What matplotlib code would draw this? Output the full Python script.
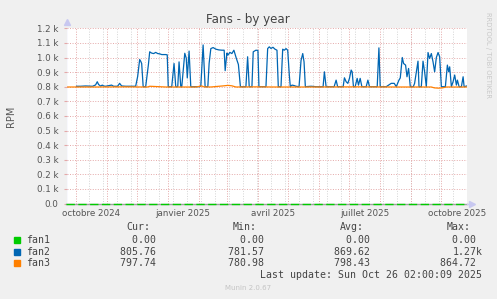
import datetime as dt
import numpy as np
import matplotlib
matplotlib.use("Agg")
import matplotlib.pyplot as plt
import matplotlib.dates as mdates

W, H = 497, 299

# data: days counted from 1 Oct 2024
base = dt.datetime(2024, 10, 1)
t_start = dt.datetime(2024, 9, 22)
t_end = dt.datetime(2025, 10, 26, 2, 0)

fan1_days = [-9, 391]
fan1_rpm = [0, 0]

fan2_days = [1, 5, 10, 17, 20, 21.7, 23, 25, 26.7, 28, 30, 36, 38, 42, 44, 46, 50, 55, 60,
             62, 64, 65, 66, 67.5, 70, 72.7, 74, 76, 78, 80, 82, 84, 86, 90, 91.5, 92.5,
             96, 98.3, 100, 102, 103.3, 105, 106, 109, 110.5, 111.5, 113.3, 115, 124, 125,
             127.3, 129.3, 132, 133.3, 135, 137.3, 140, 143, 146, 148.3, 149.3, 151, 152,
             154, 156, 158, 160.5, 162.5, 164.5, 170, 171.7, 173.3, 176, 177.3, 180, 182,
             183, 190, 191.7, 193.3, 195, 197, 199, 201, 202.3, 205, 206.7, 208.3, 210,
             211.7, 213.3, 214.3, 216, 218, 220, 223, 225, 226.7, 228, 229.3, 235, 240,
             247, 248.3, 250, 258, 260, 261.5, 267, 268.3, 270, 271.7, 273.3, 275, 276,
             277.3, 279, 281, 282.3, 284, 285.7, 290, 291.7, 293.3, 301, 302.7, 304, 310,
             315, 318, 320, 322.7, 324, 326, 327.3, 329.3, 330.7, 332.3, 334, 337, 338.3,
             341.7, 342.7, 345, 346.7, 348.3, 350, 351.7, 353.3, 355, 356.7, 358.3, 360,
             361.7, 363.3, 365, 369, 371, 372.3, 373.3, 375, 376.7, 378.3, 380, 381, 382.7,
             385, 386.7, 387.7, 391]
fan2_rpm = [803, 803, 805, 803, 812, 834, 815, 804, 811, 805, 803, 811, 803, 803, 823, 805, 803, 803, 803,
            870, 986, 975, 959, 800, 800, 950, 1039, 1030, 1027, 1035, 1027, 1025, 1020, 1020, 1018, 800,
            800, 959, 800, 800, 970, 800, 800, 1029, 995, 860, 1044, 800, 800, 805,
            1086, 800, 800, 960, 1061, 1068, 1057, 1052, 1050, 1050, 910, 1030, 1016,
            1035, 1027, 1050, 993, 952, 800, 800, 1005, 800, 800, 1039, 1050, 1048,
            800, 800, 1061, 1073, 1062, 1070, 1057, 1050, 800, 800, 1057, 1050, 1061,
            1050, 880, 800, 811, 808, 803, 800, 980, 1027, 970, 800, 803, 800,
            800, 902, 800, 800, 845, 800, 800, 861, 834, 823, 857, 914, 902,
            800, 800, 857, 811, 857, 800, 800, 845, 800, 800, 1066, 800, 800,
            823, 823, 800, 845, 860, 1000, 959, 948, 868, 925, 800, 800, 823,
            975, 800, 800, 975, 902, 800, 1034, 993, 1027, 970, 902, 1000,
            1034, 1005, 800, 800, 948, 902, 936, 800, 834, 880, 811, 845, 800,
            800, 868, 800, 806]

fan3_days = [-9, 20, 50, 72, 74, 90, 120, 126, 128, 135, 148, 152, 156, 160, 180, 200,
             240, 280, 320, 355, 358, 362, 366, 370, 391]
fan3_rpm = [798, 798, 799, 798, 803, 798, 798, 805, 799, 798, 806, 809, 806, 798, 799, 798,
            798, 799, 798, 798, 792, 790, 792, 798, 798]

series = [("fan1", "#00CC00"), ("fan2", "#0066B3"), ("fan3", "#FF8000")]
cur = ["0.00 ", "805.76 ", "797.74 "]
vmin = ["0.00 ", "781.57 ", "780.98 "]
vavg = ["0.00 ", "869.62 ", "798.43 "]
vmax = ["0.00 ", "1.27k", "864.72 "]

month_labels = ["octobre 2024", "janvier 2025", "avril 2025", "juillet 2025", "octobre 2025"]
label_dates = [dt.datetime(2024, 10, 16, 8), dt.datetime(2025, 1, 16, 8), dt.datetime(2025, 4, 16, 8),
               dt.datetime(2025, 7, 16, 8), dt.datetime(2025, 10, 16, 8)]
y_ticks = [0, 100, 200, 300, 400, 500, 600, 700, 800, 900, 1000, 1100, 1200]
y_labels = ["0.0", "0.1 k", "0.2 k", "0.3 k", "0.4 k", "0.5 k", "0.6 k", "0.7 k",
            "0.8 k", "0.9 k", "1.0 k", "1.1 k", "1.2 k"]


def to_dates(days):
    return [base + dt.timedelta(days=d) for d in days]


def fx(x):
    return x / W


def fy(y):
    return 1 - y / H


fig = plt.figure(figsize=(W / 100, H / 100), dpi=100, facecolor="#F0F0F0")
ax = fig.add_axes([fx(66.5), fy(203.5), 400 / W, 175.2 / H], facecolor="white")
ax.set_xlim(t_start, t_end)
ax.set_ylim(0, 1200)

grid_red = "#E4A8A8"
grid_gray = "#D4D4D4"
dots = (0, (1, 1.6))

# minor grid, every two weeks
d = dt.datetime(2024, 10, 14)
while d < t_end:
    ax.axvline(d, color=grid_gray, lw=0.7, ls=dots, zorder=1)
    d += dt.timedelta(days=14)
# major grid, month starts
for y, m in [(2024, 10), (2024, 11), (2024, 12)] + [(2025, k) for k in range(1, 11)]:
    ax.axvline(dt.datetime(y, m, 1), color=grid_red, lw=0.7, ls=dots, zorder=1)
for v in y_ticks[1:]:
    ax.axhline(v, color=grid_red, lw=0.7, ls=dots, zorder=1)

ax.plot(to_dates(fan1_days), fan1_rpm, color="#A0A0A0", lw=1.0, zorder=2, clip_on=False)
ax.plot(to_dates(fan1_days), fan1_rpm, color=series[0][1], lw=1.0, zorder=3,
        dashes=(6, 2.5), clip_on=False)
ax.plot(to_dates(fan2_days), fan2_rpm, color=series[1][1], lw=0.9, zorder=3)
ax.plot(to_dates(fan3_days), fan3_rpm, color=series[2][1], lw=0.9, zorder=4)

for s in ax.spines.values():
    s.set_visible(False)
ax.axvline(t_start, color="#C8C8F0", lw=0.9, zorder=5)
ax.plot([0], [1.035], marker="^", ms=4, color="#C8C8F0", transform=ax.transAxes, clip_on=False)
ax.plot([1.0, 1.012], [0, 0], color="#C8C8F0", lw=0.9, transform=ax.transAxes, clip_on=False)
ax.plot([1.014], [0], marker=">", ms=4, color="#C8C8F0", transform=ax.transAxes, clip_on=False)

ax.set_yticks(y_ticks)
ax.set_yticklabels(y_labels, fontsize=6.3, color="#555555")
ax.set_xticks(mdates.date2num(label_dates))
ax.set_xticklabels(month_labels, fontsize=6.3, color="#555555")
ax.tick_params(axis="x", length=0, pad=4)
ax.tick_params(axis="y", length=2, color=grid_red, pad=4)

fig.text(fx(248.3), fy(20), "Fans - by year", ha="center", va="center", fontsize=8.6, color="#444444")
fig.text(fx(11), fy(116), "RPM", rotation=90, ha="center", va="center", fontsize=7, color="#555555")
fig.text(fx(488), fy(55), "RRDTOOL / TOBI OETIKER", rotation=270, ha="center", va="center",
         fontsize=4.9, color="#C8C8C8")

mono = dict(family="DejaVu Sans Mono", fontsize=7.1, color="#444444", va="center")
headers = [("Cur:", 150.5), ("Min:", 257), ("Avg:", 363.5), ("Max:", 470.5)]
for txt, x in headers:
    fig.text(fx(x), fy(227), txt, ha="right", **mono)
cols = [(cur, 162.5), (vmin, 269.5), (vavg, 375.5), (vmax, 482.5)]
for i, (name, color) in enumerate(series):
    yy = 240 + i * 11.7
    fig.patches.append(plt.Rectangle((fx(14), fy(yy + 3)), 6 / W, 6 / H, color=color,
                                     transform=fig.transFigure, figure=fig))
    fig.text(fx(26.5), fy(yy), name, ha="left", **mono)
    for vals, x in cols:
        fig.text(fx(x), fy(yy), vals[i], ha="right", **mono)
fig.text(fx(482.5), fy(275), "Last update: Sun Oct 26 02:00:09 2025", ha="right", **mono)
fig.text(fx(248.5), fy(288.5), "Munin 2.0.67", ha="center", va="center", fontsize=5, color="#C4C4C4")

fig.savefig("out.png", dpi=100, facecolor=fig.get_facecolor())
